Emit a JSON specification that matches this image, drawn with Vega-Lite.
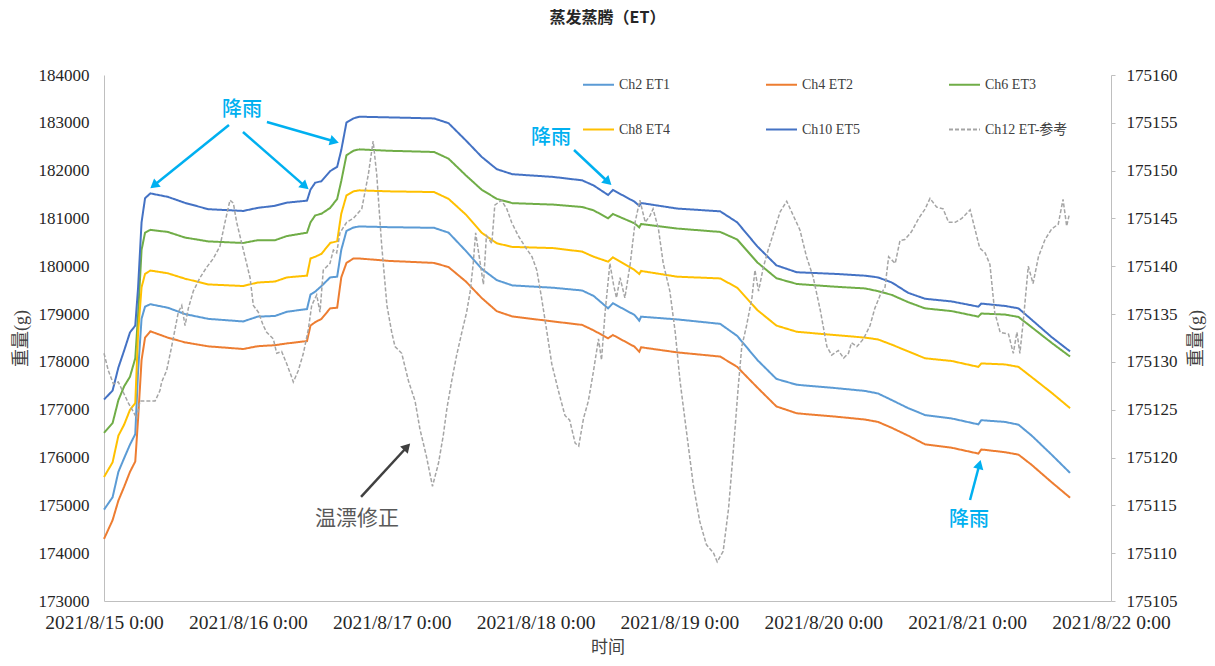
{
  "$schema": "https://vega.github.io/schema/vega-lite/v6.json",
  "width": 1007,
  "height": 526,
  "autosize": {"type": "none"},
  "padding": {"left": 104, "top": 75, "right": 104, "bottom": 65},
  "title": {"text": "蒸发蒸腾（ET）", "frame": "group", "anchor": "middle", "offset": 40, "font": "Noto Sans CJK SC", "fontSize": 16, "fontWeight": "bold", "color": "#262626"},
  "datasets": {
    "et": [
      {"t": "2021-08-15T00:00", "Ch2 ET1": 174910, "Ch4 ET2": 174298, "Ch6 ET3": 176514, "Ch8 ET4": 175593, "Ch10 ET5": 177213},
      {"t": "2021-08-15T01:26", "Ch2 ET1": 175170, "Ch4 ET2": 174690, "Ch6 ET3": 176720, "Ch8 ET4": 175900, "Ch10 ET5": 177400},
      {"t": "2021-08-15T02:24", "Ch2 ET1": 175701, "Ch4 ET2": 175100, "Ch6 ET3": 177200, "Ch8 ET4": 176457, "Ch10 ET5": 177882},
      {"t": "2021-08-15T03:22", "Ch2 ET1": 175990, "Ch4 ET2": 175390, "Ch6 ET3": 177490, "Ch8 ET4": 176690, "Ch10 ET5": 178240},
      {"t": "2021-08-15T04:20", "Ch2 ET1": 176270, "Ch4 ET2": 175701, "Ch6 ET3": 177690, "Ch8 ET4": 176997, "Ch10 ET5": 178616},
      {"t": "2021-08-15T05:13", "Ch2 ET1": 176490, "Ch4 ET2": 175917, "Ch6 ET3": 178076, "Ch8 ET4": 177140, "Ch10 ET5": 178760},
      {"t": "2021-08-15T05:41", "Ch2 ET1": 177800, "Ch4 ET2": 176800, "Ch6 ET3": 178980, "Ch8 ET4": 178600, "Ch10 ET5": 179550},
      {"t": "2021-08-15T06:16", "Ch2 ET1": 178904, "Ch4 ET2": 178040, "Ch6 ET3": 180343, "Ch8 ET4": 179560, "Ch10 ET5": 180919},
      {"t": "2021-08-15T06:51", "Ch2 ET1": 179156, "Ch4 ET2": 178508, "Ch6 ET3": 180703, "Ch8 ET4": 179840, "Ch10 ET5": 181423},
      {"t": "2021-08-15T07:44", "Ch2 ET1": 179206, "Ch4 ET2": 178640, "Ch6 ET3": 180761, "Ch8 ET4": 179911, "Ch10 ET5": 181524},
      {"t": "2021-08-15T10:38", "Ch2 ET1": 179134, "Ch4 ET2": 178508, "Ch6 ET3": 180718, "Ch8 ET4": 179854, "Ch10 ET5": 181452},
      {"t": "2021-08-15T13:32", "Ch2 ET1": 179000, "Ch4 ET2": 178408, "Ch6 ET3": 180600, "Ch8 ET4": 179740, "Ch10 ET5": 181325},
      {"t": "2021-08-15T17:25", "Ch2 ET1": 178900, "Ch4 ET2": 178325, "Ch6 ET3": 180520, "Ch8 ET4": 179620, "Ch10 ET5": 181193},
      {"t": "2021-08-15T23:13", "Ch2 ET1": 178846, "Ch4 ET2": 178270, "Ch6 ET3": 180487, "Ch8 ET4": 179587, "Ch10 ET5": 181157},
      {"t": "2021-08-16T01:38", "Ch2 ET1": 178947, "Ch4 ET2": 178328, "Ch6 ET3": 180545, "Ch8 ET4": 179660, "Ch10 ET5": 181221},
      {"t": "2021-08-16T04:32", "Ch2 ET1": 178961, "Ch4 ET2": 178350, "Ch6 ET3": 180545, "Ch8 ET4": 179681, "Ch10 ET5": 181265},
      {"t": "2021-08-16T06:29", "Ch2 ET1": 179048, "Ch4 ET2": 178386, "Ch6 ET3": 180631, "Ch8 ET4": 179767, "Ch10 ET5": 181330},
      {"t": "2021-08-16T09:52", "Ch2 ET1": 179106, "Ch4 ET2": 178436, "Ch6 ET3": 180703, "Ch8 ET4": 179803, "Ch10 ET5": 181372},
      {"t": "2021-08-16T10:27", "Ch2 ET1": 179408, "Ch4 ET2": 178760, "Ch6 ET3": 180919, "Ch8 ET4": 180163, "Ch10 ET5": 181603},
      {"t": "2021-08-16T11:14", "Ch2 ET1": 179470, "Ch4 ET2": 178830, "Ch6 ET3": 181063, "Ch8 ET4": 180199, "Ch10 ET5": 181747},
      {"t": "2021-08-16T12:17", "Ch2 ET1": 179587, "Ch4 ET2": 178900, "Ch6 ET3": 181099, "Ch8 ET4": 180260, "Ch10 ET5": 181780},
      {"t": "2021-08-16T13:44", "Ch2 ET1": 179767, "Ch4 ET2": 179120, "Ch6 ET3": 181221, "Ch8 ET4": 180487, "Ch10 ET5": 181990},
      {"t": "2021-08-16T14:54", "Ch2 ET1": 179782, "Ch4 ET2": 179134, "Ch6 ET3": 181408, "Ch8 ET4": 180523, "Ch10 ET5": 182080},
      {"t": "2021-08-16T15:35", "Ch2 ET1": 180343, "Ch4 ET2": 179767, "Ch6 ET3": 181783, "Ch8 ET4": 181100, "Ch10 ET5": 182430},
      {"t": "2021-08-16T16:27", "Ch2 ET1": 180739, "Ch4 ET2": 180070, "Ch6 ET3": 182322, "Ch8 ET4": 181480, "Ch10 ET5": 183006},
      {"t": "2021-08-16T17:37", "Ch2 ET1": 180811, "Ch4 ET2": 180163, "Ch6 ET3": 182416, "Ch8 ET4": 181567, "Ch10 ET5": 183092},
      {"t": "2021-08-16T18:35", "Ch2 ET1": 180833, "Ch4 ET2": 180163, "Ch6 ET3": 182445, "Ch8 ET4": 181588, "Ch10 ET5": 183128},
      {"t": "2021-08-16T23:25", "Ch2 ET1": 180818, "Ch4 ET2": 180113, "Ch6 ET3": 182416, "Ch8 ET4": 181567, "Ch10 ET5": 183114},
      {"t": "2021-08-17T07:04", "Ch2 ET1": 180804, "Ch4 ET2": 180070, "Ch6 ET3": 182390, "Ch8 ET4": 181552, "Ch10 ET5": 183092},
      {"t": "2021-08-17T09:29", "Ch2 ET1": 180703, "Ch4 ET2": 179983, "Ch6 ET3": 182250, "Ch8 ET4": 181410, "Ch10 ET5": 182992},
      {"t": "2021-08-17T12:23", "Ch2 ET1": 180320, "Ch4 ET2": 179680, "Ch6 ET3": 181900, "Ch8 ET4": 181080, "Ch10 ET5": 182630},
      {"t": "2021-08-17T15:01", "Ch2 ET1": 179947, "Ch4 ET2": 179336, "Ch6 ET3": 181600, "Ch8 ET4": 180700, "Ch10 ET5": 182287},
      {"t": "2021-08-17T17:32", "Ch2 ET1": 179710, "Ch4 ET2": 179060, "Ch6 ET3": 181410, "Ch8 ET4": 180480, "Ch10 ET5": 182030},
      {"t": "2021-08-17T20:08", "Ch2 ET1": 179600, "Ch4 ET2": 178950, "Ch6 ET3": 181320, "Ch8 ET4": 180405, "Ch10 ET5": 181925},
      {"t": "2021-08-18T02:55", "Ch2 ET1": 179551, "Ch4 ET2": 178846, "Ch6 ET3": 181290, "Ch8 ET4": 180380, "Ch10 ET5": 181869},
      {"t": "2021-08-18T07:46", "Ch2 ET1": 179494, "Ch4 ET2": 178774, "Ch6 ET3": 181240, "Ch8 ET4": 180307, "Ch10 ET5": 181797},
      {"t": "2021-08-18T09:41", "Ch2 ET1": 179380, "Ch4 ET2": 178660, "Ch6 ET3": 181170, "Ch8 ET4": 180200, "Ch10 ET5": 181690},
      {"t": "2021-08-18T12:06", "Ch2 ET1": 179121, "Ch4 ET2": 178494, "Ch6 ET3": 181003, "Ch8 ET4": 180096, "Ch10 ET5": 181491},
      {"t": "2021-08-18T12:54", "Ch2 ET1": 179226, "Ch4 ET2": 178563, "Ch6 ET3": 181093, "Ch8 ET4": 180188, "Ch10 ET5": 181595},
      {"t": "2021-08-18T16:30", "Ch2 ET1": 178982, "Ch4 ET2": 178319, "Ch6 ET3": 180899, "Ch8 ET4": 179923, "Ch10 ET5": 181351},
      {"t": "2021-08-18T17:18", "Ch2 ET1": 178862, "Ch4 ET2": 178213, "Ch6 ET3": 180814, "Ch8 ET4": 179838, "Ch10 ET5": 181266},
      {"t": "2021-08-18T17:36", "Ch2 ET1": 178946, "Ch4 ET2": 178306, "Ch6 ET3": 180884, "Ch8 ET4": 179902, "Ch10 ET5": 181323},
      {"t": "2021-08-18T23:38", "Ch2 ET1": 178889, "Ch4 ET2": 178199, "Ch6 ET3": 180789, "Ch8 ET4": 179782, "Ch10 ET5": 181207},
      {"t": "2021-08-19T06:48", "Ch2 ET1": 178796, "Ch4 ET2": 178112, "Ch6 ET3": 180718, "Ch8 ET4": 179746, "Ch10 ET5": 181149},
      {"t": "2021-08-19T09:38", "Ch2 ET1": 178544, "Ch4 ET2": 177896, "Ch6 ET3": 180560, "Ch8 ET4": 179552, "Ch10 ET5": 180919},
      {"t": "2021-08-19T13:00", "Ch2 ET1": 178040, "Ch4 ET2": 177464, "Ch6 ET3": 180080, "Ch8 ET4": 179084, "Ch10 ET5": 180415},
      {"t": "2021-08-19T16:11", "Ch2 ET1": 177644, "Ch4 ET2": 177069, "Ch6 ET3": 179750, "Ch8 ET4": 178760, "Ch10 ET5": 180019},
      {"t": "2021-08-19T19:35", "Ch2 ET1": 177522, "Ch4 ET2": 176925, "Ch6 ET3": 179630, "Ch8 ET4": 178630, "Ch10 ET5": 179875},
      {"t": "2021-08-20T02:16", "Ch2 ET1": 177450, "Ch4 ET2": 176853, "Ch6 ET3": 179570, "Ch8 ET4": 178558, "Ch10 ET5": 179839},
      {"t": "2021-08-20T06:58", "Ch2 ET1": 177393, "Ch4 ET2": 176795, "Ch6 ET3": 179537, "Ch8 ET4": 178508, "Ch10 ET5": 179803},
      {"t": "2021-08-20T09:08", "Ch2 ET1": 177340, "Ch4 ET2": 176745, "Ch6 ET3": 179480, "Ch8 ET4": 178470, "Ch10 ET5": 179767},
      {"t": "2021-08-20T11:27", "Ch2 ET1": 177200, "Ch4 ET2": 176620, "Ch6 ET3": 179400, "Ch8 ET4": 178360, "Ch10 ET5": 179660},
      {"t": "2021-08-20T14:10", "Ch2 ET1": 177033, "Ch4 ET2": 176457, "Ch6 ET3": 179249, "Ch8 ET4": 178220, "Ch10 ET5": 179444},
      {"t": "2021-08-20T16:58", "Ch2 ET1": 176889, "Ch4 ET2": 176277, "Ch6 ET3": 179120, "Ch8 ET4": 178076, "Ch10 ET5": 179321},
      {"t": "2021-08-20T21:26", "Ch2 ET1": 176817, "Ch4 ET2": 176205, "Ch6 ET3": 179062, "Ch8 ET4": 178019, "Ch10 ET5": 179264},
      {"t": "2021-08-21T01:52", "Ch2 ET1": 176694, "Ch4 ET2": 176083, "Ch6 ET3": 178947, "Ch8 ET4": 177896, "Ch10 ET5": 179156},
      {"t": "2021-08-21T02:22", "Ch2 ET1": 176781, "Ch4 ET2": 176169, "Ch6 ET3": 179012, "Ch8 ET4": 177968, "Ch10 ET5": 179220},
      {"t": "2021-08-21T06:20", "Ch2 ET1": 176745, "Ch4 ET2": 176112, "Ch6 ET3": 178990, "Ch8 ET4": 177947, "Ch10 ET5": 179170},
      {"t": "2021-08-21T08:34", "Ch2 ET1": 176687, "Ch4 ET2": 176061, "Ch6 ET3": 178940, "Ch8 ET4": 177896, "Ch10 ET5": 179120},
      {"t": "2021-08-21T10:47", "Ch2 ET1": 176457, "Ch4 ET2": 175845, "Ch6 ET3": 178724, "Ch8 ET4": 177680, "Ch10 ET5": 178880},
      {"t": "2021-08-21T14:05", "Ch2 ET1": 176061, "Ch4 ET2": 175485, "Ch6 ET3": 178400, "Ch8 ET4": 177356, "Ch10 ET5": 178520},
      {"t": "2021-08-21T17:10", "Ch2 ET1": 175679, "Ch4 ET2": 175161, "Ch6 ET3": 178112, "Ch8 ET4": 177033, "Ch10 ET5": 178220}
    ],
    "ref": [
      {"t": "2021-08-15T00:00", "Ch12 ET-参考": 175130.9},
      {"t": "2021-08-15T00:43", "Ch12 ET-参考": 175129.1},
      {"t": "2021-08-15T01:34", "Ch12 ET-参考": 175127.7},
      {"t": "2021-08-15T02:23", "Ch12 ET-参考": 175127.9},
      {"t": "2021-08-15T03:14", "Ch12 ET-参考": 175126.8},
      {"t": "2021-08-15T04:04", "Ch12 ET-参考": 175125.7},
      {"t": "2021-08-15T04:53", "Ch12 ET-参考": 175124.8},
      {"t": "2021-08-15T05:27", "Ch12 ET-参考": 175124.1},
      {"t": "2021-08-15T06:00", "Ch12 ET-参考": 175125.9},
      {"t": "2021-08-15T06:50", "Ch12 ET-参考": 175125.9},
      {"t": "2021-08-15T08:31", "Ch12 ET-参考": 175125.9},
      {"t": "2021-08-15T09:20", "Ch12 ET-参考": 175127.0},
      {"t": "2021-08-15T09:37", "Ch12 ET-参考": 175127.9},
      {"t": "2021-08-15T10:27", "Ch12 ET-参考": 175129.1},
      {"t": "2021-08-15T11:17", "Ch12 ET-参考": 175131.6},
      {"t": "2021-08-15T12:24", "Ch12 ET-参考": 175135.2},
      {"t": "2021-08-15T12:58", "Ch12 ET-参考": 175135.9},
      {"t": "2021-08-15T13:31", "Ch12 ET-参考": 175133.8},
      {"t": "2021-08-15T14:04", "Ch12 ET-参考": 175135.6},
      {"t": "2021-08-15T14:54", "Ch12 ET-参考": 175137.4},
      {"t": "2021-08-15T16:01", "Ch12 ET-参考": 175138.8},
      {"t": "2021-08-15T17:08", "Ch12 ET-参考": 175139.9},
      {"t": "2021-08-15T18:14", "Ch12 ET-参考": 175140.8},
      {"t": "2021-08-15T19:21", "Ch12 ET-参考": 175142.1},
      {"t": "2021-08-15T20:11", "Ch12 ET-参考": 175144.6},
      {"t": "2021-08-15T21:01", "Ch12 ET-参考": 175146.9},
      {"t": "2021-08-15T21:35", "Ch12 ET-参考": 175146.6},
      {"t": "2021-08-15T22:08", "Ch12 ET-参考": 175144.6},
      {"t": "2021-08-15T23:15", "Ch12 ET-参考": 175141.7},
      {"t": "2021-08-16T00:22", "Ch12 ET-参考": 175138.8},
      {"t": "2021-08-16T00:55", "Ch12 ET-参考": 175135.9},
      {"t": "2021-08-16T01:45", "Ch12 ET-参考": 175135.2},
      {"t": "2021-08-16T02:35", "Ch12 ET-参考": 175133.8},
      {"t": "2021-08-16T03:08", "Ch12 ET-参考": 175133.1},
      {"t": "2021-08-16T04:15", "Ch12 ET-参考": 175132.4},
      {"t": "2021-08-16T04:49", "Ch12 ET-参考": 175130.9},
      {"t": "2021-08-16T05:38", "Ch12 ET-参考": 175131.1},
      {"t": "2021-08-16T06:29", "Ch12 ET-参考": 175129.8},
      {"t": "2021-08-16T07:19", "Ch12 ET-参考": 175128.4},
      {"t": "2021-08-16T07:35", "Ch12 ET-参考": 175127.9},
      {"t": "2021-08-16T08:25", "Ch12 ET-参考": 175129.1},
      {"t": "2021-08-16T09:16", "Ch12 ET-参考": 175130.9},
      {"t": "2021-08-16T10:05", "Ch12 ET-参考": 175133.4},
      {"t": "2021-08-16T10:39", "Ch12 ET-参考": 175135.9},
      {"t": "2021-08-16T11:29", "Ch12 ET-参考": 175137.0},
      {"t": "2021-08-16T12:02", "Ch12 ET-参考": 175135.2},
      {"t": "2021-08-16T12:35", "Ch12 ET-参考": 175139.6},
      {"t": "2021-08-16T13:42", "Ch12 ET-参考": 175140.3},
      {"t": "2021-08-16T14:16", "Ch12 ET-参考": 175141.7},
      {"t": "2021-08-16T14:49", "Ch12 ET-参考": 175141.4},
      {"t": "2021-08-16T15:22", "Ch12 ET-参考": 175143.5},
      {"t": "2021-08-16T16:29", "Ch12 ET-参考": 175144.6},
      {"t": "2021-08-16T17:36", "Ch12 ET-参考": 175145.0},
      {"t": "2021-08-16T19:00", "Ch12 ET-参考": 175146.0},
      {"t": "2021-08-16T20:06", "Ch12 ET-参考": 175149.6},
      {"t": "2021-08-16T20:54", "Ch12 ET-参考": 175153.1},
      {"t": "2021-08-16T21:30", "Ch12 ET-参考": 175149.6},
      {"t": "2021-08-16T22:18", "Ch12 ET-参考": 175142.4},
      {"t": "2021-08-16T23:12", "Ch12 ET-参考": 175135.9},
      {"t": "2021-08-17T00:00", "Ch12 ET-参考": 175133.1},
      {"t": "2021-08-17T00:33", "Ch12 ET-参考": 175131.6},
      {"t": "2021-08-17T01:40", "Ch12 ET-参考": 175130.9},
      {"t": "2021-08-17T02:48", "Ch12 ET-参考": 175128.0},
      {"t": "2021-08-17T03:54", "Ch12 ET-参考": 175125.9},
      {"t": "2021-08-17T04:42", "Ch12 ET-参考": 175123.0},
      {"t": "2021-08-17T05:48", "Ch12 ET-参考": 175120.1},
      {"t": "2021-08-17T06:48", "Ch12 ET-参考": 175117.0},
      {"t": "2021-08-17T07:48", "Ch12 ET-参考": 175119.4},
      {"t": "2021-08-17T08:36", "Ch12 ET-参考": 175122.3},
      {"t": "2021-08-17T09:12", "Ch12 ET-参考": 175125.1},
      {"t": "2021-08-17T10:00", "Ch12 ET-参考": 175128.0},
      {"t": "2021-08-17T10:48", "Ch12 ET-参考": 175130.6},
      {"t": "2021-08-17T11:42", "Ch12 ET-参考": 175133.1},
      {"t": "2021-08-17T12:30", "Ch12 ET-参考": 175135.2},
      {"t": "2021-08-17T13:06", "Ch12 ET-参考": 175137.4},
      {"t": "2021-08-17T13:36", "Ch12 ET-参考": 175140.3},
      {"t": "2021-08-17T14:00", "Ch12 ET-参考": 175143.5},
      {"t": "2021-08-17T14:36", "Ch12 ET-参考": 175141.0},
      {"t": "2021-08-17T15:18", "Ch12 ET-参考": 175138.1},
      {"t": "2021-08-17T15:48", "Ch12 ET-参考": 175143.2},
      {"t": "2021-08-17T16:42", "Ch12 ET-参考": 175142.4},
      {"t": "2021-08-17T17:12", "Ch12 ET-参考": 175146.4},
      {"t": "2021-08-17T18:18", "Ch12 ET-参考": 175146.9},
      {"t": "2021-08-17T19:12", "Ch12 ET-参考": 175146.0},
      {"t": "2021-08-17T20:00", "Ch12 ET-参考": 175144.6},
      {"t": "2021-08-17T21:06", "Ch12 ET-参考": 175143.2},
      {"t": "2021-08-17T22:12", "Ch12 ET-参考": 175142.1},
      {"t": "2021-08-17T23:24", "Ch12 ET-参考": 175141.0},
      {"t": "2021-08-18T00:12", "Ch12 ET-参考": 175139.6},
      {"t": "2021-08-18T01:00", "Ch12 ET-参考": 175136.7},
      {"t": "2021-08-18T01:54", "Ch12 ET-参考": 175133.1},
      {"t": "2021-08-18T02:42", "Ch12 ET-参考": 175129.8},
      {"t": "2021-08-18T03:48", "Ch12 ET-参考": 175127.0},
      {"t": "2021-08-18T04:54", "Ch12 ET-参考": 175124.4},
      {"t": "2021-08-18T05:42", "Ch12 ET-参考": 175123.9},
      {"t": "2021-08-18T06:36", "Ch12 ET-参考": 175121.5},
      {"t": "2021-08-18T07:12", "Ch12 ET-参考": 175121.2},
      {"t": "2021-08-18T08:00", "Ch12 ET-参考": 175124.1},
      {"t": "2021-08-18T08:48", "Ch12 ET-参考": 175125.9},
      {"t": "2021-08-18T09:36", "Ch12 ET-参考": 175128.8},
      {"t": "2021-08-18T10:30", "Ch12 ET-参考": 175132.4},
      {"t": "2021-08-18T11:00", "Ch12 ET-参考": 175130.2},
      {"t": "2021-08-18T11:36", "Ch12 ET-参考": 175135.2},
      {"t": "2021-08-18T12:24", "Ch12 ET-参考": 175140.3},
      {"t": "2021-08-18T13:00", "Ch12 ET-参考": 175138.1},
      {"t": "2021-08-18T13:30", "Ch12 ET-参考": 175136.7},
      {"t": "2021-08-18T14:06", "Ch12 ET-参考": 175138.8},
      {"t": "2021-08-18T14:54", "Ch12 ET-参考": 175136.7},
      {"t": "2021-08-18T15:48", "Ch12 ET-参考": 175140.3},
      {"t": "2021-08-18T16:36", "Ch12 ET-参考": 175144.6},
      {"t": "2021-08-18T17:24", "Ch12 ET-参考": 175146.9},
      {"t": "2021-08-18T18:18", "Ch12 ET-参考": 175144.6},
      {"t": "2021-08-18T19:06", "Ch12 ET-参考": 175145.3},
      {"t": "2021-08-18T19:36", "Ch12 ET-参考": 175146.0},
      {"t": "2021-08-18T20:30", "Ch12 ET-参考": 175143.9},
      {"t": "2021-08-18T21:18", "Ch12 ET-参考": 175140.3},
      {"t": "2021-08-18T22:24", "Ch12 ET-参考": 175137.4},
      {"t": "2021-08-18T23:18", "Ch12 ET-参考": 175133.1},
      {"t": "2021-08-19T00:06", "Ch12 ET-参考": 175128.0},
      {"t": "2021-08-19T01:12", "Ch12 ET-参考": 175122.6},
      {"t": "2021-08-19T02:18", "Ch12 ET-参考": 175117.2},
      {"t": "2021-08-19T03:24", "Ch12 ET-参考": 175113.3},
      {"t": "2021-08-19T04:30", "Ch12 ET-参考": 175110.9},
      {"t": "2021-08-19T05:42", "Ch12 ET-参考": 175110.0},
      {"t": "2021-08-19T06:18", "Ch12 ET-参考": 175109.1},
      {"t": "2021-08-19T07:18", "Ch12 ET-参考": 175110.2},
      {"t": "2021-08-19T08:12", "Ch12 ET-参考": 175114.7},
      {"t": "2021-08-19T09:00", "Ch12 ET-参考": 175120.8},
      {"t": "2021-08-19T09:48", "Ch12 ET-参考": 175127.3},
      {"t": "2021-08-19T10:24", "Ch12 ET-参考": 175131.6},
      {"t": "2021-08-19T11:12", "Ch12 ET-参考": 175133.8},
      {"t": "2021-08-19T12:06", "Ch12 ET-参考": 175136.7},
      {"t": "2021-08-19T12:36", "Ch12 ET-参考": 175139.6},
      {"t": "2021-08-19T13:12", "Ch12 ET-参考": 175137.4},
      {"t": "2021-08-19T14:00", "Ch12 ET-参考": 175139.9},
      {"t": "2021-08-19T14:48", "Ch12 ET-参考": 175141.7},
      {"t": "2021-08-19T15:42", "Ch12 ET-参考": 175143.5},
      {"t": "2021-08-19T16:48", "Ch12 ET-参考": 175145.7},
      {"t": "2021-08-19T17:54", "Ch12 ET-参考": 175146.8},
      {"t": "2021-08-19T19:00", "Ch12 ET-参考": 175145.3},
      {"t": "2021-08-19T20:06", "Ch12 ET-参考": 175143.8},
      {"t": "2021-08-19T21:12", "Ch12 ET-参考": 175141.0},
      {"t": "2021-08-19T22:18", "Ch12 ET-参考": 175138.9},
      {"t": "2021-08-19T23:30", "Ch12 ET-参考": 175135.4},
      {"t": "2021-08-20T00:36", "Ch12 ET-参考": 175131.6},
      {"t": "2021-08-20T01:24", "Ch12 ET-参考": 175130.7},
      {"t": "2021-08-20T02:30", "Ch12 ET-参考": 175131.2},
      {"t": "2021-08-20T03:24", "Ch12 ET-参考": 175130.4},
      {"t": "2021-08-20T04:12", "Ch12 ET-参考": 175130.9},
      {"t": "2021-08-20T04:42", "Ch12 ET-参考": 175132.0},
      {"t": "2021-08-20T05:36", "Ch12 ET-参考": 175131.6},
      {"t": "2021-08-20T06:42", "Ch12 ET-参考": 175132.4},
      {"t": "2021-08-20T07:48", "Ch12 ET-参考": 175133.8},
      {"t": "2021-08-20T08:36", "Ch12 ET-参考": 175135.6},
      {"t": "2021-08-20T09:30", "Ch12 ET-参考": 175137.0},
      {"t": "2021-08-20T10:18", "Ch12 ET-参考": 175137.8},
      {"t": "2021-08-20T10:54", "Ch12 ET-参考": 175141.0},
      {"t": "2021-08-20T12:00", "Ch12 ET-参考": 175140.3},
      {"t": "2021-08-20T12:48", "Ch12 ET-参考": 175142.7},
      {"t": "2021-08-20T13:36", "Ch12 ET-参考": 175142.8},
      {"t": "2021-08-20T14:42", "Ch12 ET-参考": 175143.6},
      {"t": "2021-08-20T15:54", "Ch12 ET-参考": 175145.0},
      {"t": "2021-08-20T17:00", "Ch12 ET-参考": 175146.0},
      {"t": "2021-08-20T17:48", "Ch12 ET-参考": 175147.1},
      {"t": "2021-08-20T18:54", "Ch12 ET-参考": 175146.2},
      {"t": "2021-08-20T20:00", "Ch12 ET-参考": 175146.0},
      {"t": "2021-08-20T20:54", "Ch12 ET-参考": 175144.6},
      {"t": "2021-08-20T22:00", "Ch12 ET-参考": 175144.6},
      {"t": "2021-08-20T23:06", "Ch12 ET-参考": 175145.0},
      {"t": "2021-08-21T00:30", "Ch12 ET-参考": 175145.9},
      {"t": "2021-08-21T01:18", "Ch12 ET-参考": 175143.9},
      {"t": "2021-08-21T02:06", "Ch12 ET-参考": 175141.9},
      {"t": "2021-08-21T03:00", "Ch12 ET-参考": 175141.4},
      {"t": "2021-08-21T03:48", "Ch12 ET-参考": 175140.2},
      {"t": "2021-08-21T04:36", "Ch12 ET-参考": 175135.2},
      {"t": "2021-08-21T05:30", "Ch12 ET-参考": 175133.1},
      {"t": "2021-08-21T06:54", "Ch12 ET-参考": 175132.9},
      {"t": "2021-08-21T07:42", "Ch12 ET-参考": 175130.9},
      {"t": "2021-08-21T08:18", "Ch12 ET-参考": 175133.1},
      {"t": "2021-08-21T08:48", "Ch12 ET-参考": 175130.9},
      {"t": "2021-08-21T09:24", "Ch12 ET-参考": 175134.5},
      {"t": "2021-08-21T10:12", "Ch12 ET-参考": 175140.0},
      {"t": "2021-08-21T11:00", "Ch12 ET-参考": 175138.2},
      {"t": "2021-08-21T11:54", "Ch12 ET-参考": 175141.0},
      {"t": "2021-08-21T13:00", "Ch12 ET-参考": 175142.8},
      {"t": "2021-08-21T14:06", "Ch12 ET-参考": 175143.9},
      {"t": "2021-08-21T15:12", "Ch12 ET-参考": 175144.4},
      {"t": "2021-08-21T16:00", "Ch12 ET-参考": 175147.0},
      {"t": "2021-08-21T16:36", "Ch12 ET-参考": 175144.2},
      {"t": "2021-08-21T17:00", "Ch12 ET-参考": 175145.3}
    ],
    "arrows": [
      {"id": "a1", "t1": "2021-08-15T20:51", "v1": 182955, "t2": "2021-08-15T08:31", "v2": 181710},
      {"id": "a2", "t1": "2021-08-15T23:11", "v1": 182808, "t2": "2021-08-16T09:22", "v2": 181692},
      {"id": "a3", "t1": "2021-08-16T03:11", "v1": 183017, "t2": "2021-08-16T14:12", "v2": 182620},
      {"id": "a4", "t1": "2021-08-18T06:25", "v1": 182432, "t2": "2021-08-18T11:55", "v2": 181784},
      {"id": "a5", "t1": "2021-08-21T00:29", "v1": 175113, "t2": "2021-08-21T01:59", "v2": 175824},
      {"id": "g1", "t1": "2021-08-16T18:53", "v1": 175176, "t2": "2021-08-17T02:23", "v2": 176200}
    ],
    "notes": [
      {"t": "2021-08-15T23:01", "v": 183268, "txt": "降雨", "k": "rain"},
      {"t": "2021-08-18T02:34", "v": 182683, "txt": "降雨", "k": "rain"},
      {"t": "2021-08-21T00:18", "v": 174695, "txt": "降雨", "k": "rain"},
      {"t": "2021-08-16T18:13", "v": 174716, "txt": "温漂修正", "k": "drift"}
    ]
  },
  "layer": [
    {
      "layer": [
        {
          "data": {"name": "et"},
          "transform": [{"fold": ["Ch2 ET1", "Ch4 ET2", "Ch6 ET3", "Ch8 ET4", "Ch10 ET5"], "as": ["series", "weight"]}],
          "mark": {"type": "line", "strokeWidth": 2},
          "encoding": {
            "x": {"field": "t", "type": "temporal", "title": "时间",
              "scale": {"domain": [{"year": 2021, "month": 8, "date": 15}, {"year": 2021, "month": 8, "date": 22}], "nice": false},
              "axis": {"format": "%Y/%-m/%-d %-H:%M", "tickCount": {"interval": "day", "step": 1}, "ticks": false, "tickSize": 0, "labelPadding": 12, "labelFontSize": 19.5, "labelFlush": false, "labelOverlap": false, "titleFontSize": 17, "titlePadding": 8}},
            "y": {"field": "weight", "type": "quantitative", "title": "重量(g)",
              "scale": {"domain": [173000, 184000], "nice": false, "zero": false},
              "axis": {"orient": "left", "values": [173000, 174000, 175000, 176000, 177000, 178000, 179000, 180000, 181000, 182000, 183000, 184000], "format": "d", "ticks": false, "tickSize": 0, "labelPadding": 15, "titlePadding": 8}},
            "color": {"field": "series", "type": "nominal",
              "scale": {"domain": ["Ch2 ET1", "Ch4 ET2", "Ch6 ET3", "Ch8 ET4", "Ch10 ET5", "Ch12 ET-参考"], "range": ["#5B9BD5", "#ED7D31", "#70AD47", "#FFC000", "#4472C4", "#A5A5A5"]},
              "legend": {"title": null, "orient": "none", "direction": "horizontal", "legendX": 478, "legendY": -7, "columns": 3, "gridAlign": "all", "columnPadding": 60, "rowPadding": 21, "symbolType": "stroke", "symbolSize": 961, "symbolStrokeWidth": 2, "labelOffset": 4, "padding": 0, "labelLimit": 200}},
            "strokeDash": {"field": "series", "type": "nominal",
              "scale": {"domain": ["Ch2 ET1", "Ch4 ET2", "Ch6 ET3", "Ch8 ET4", "Ch10 ET5", "Ch12 ET-参考"], "range": [[1, 0], [1, 0], [1, 0], [1, 0], [1, 0], [4, 2]]},
              "legend": {"title": null, "orient": "none", "direction": "horizontal", "legendX": 478, "legendY": -7, "columns": 3, "gridAlign": "all", "columnPadding": 60, "rowPadding": 21, "symbolType": "stroke", "symbolSize": 961, "symbolStrokeWidth": 2, "labelOffset": 4, "padding": 0, "labelLimit": 200}}
          }
        },
        {
          "data": {"name": "arrows"},
          "transform": [{"filter": "datum.id != 'g1'"}],
          "mark": {"type": "rule", "color": "#00B0F0", "strokeWidth": 2.5},
          "encoding": {
            "x": {"field": "t1", "type": "temporal", "title": "时间"},
            "y": {"field": "v1", "type": "quantitative", "title": "重量(g)"},
            "x2": {"field": "t2"},
            "y2": {"field": "v2"}
          }
        },
        {
          "data": {"name": "arrows"},
          "transform": [{"filter": "datum.id == 'g1'"}],
          "mark": {"type": "rule", "color": "#404040", "strokeWidth": 2.5},
          "encoding": {
            "x": {"field": "t1", "type": "temporal", "title": "时间"},
            "y": {"field": "v1", "type": "quantitative", "title": "重量(g)"},
            "x2": {"field": "t2"},
            "y2": {"field": "v2"}
          }
        },
        {
          "data": {"name": "arrows"},
          "transform": [{"filter": "datum.id == 'a1'"}],
          "mark": {"type": "point", "shape": "triangle", "filled": true, "opacity": 1, "size": 110, "angle": 231, "color": "#00B0F0"},
          "encoding": {"x": {"field": "t2", "type": "temporal", "title": "时间"}, "y": {"field": "v2", "type": "quantitative", "title": "重量(g)"}}
        },
        {
          "data": {"name": "arrows"},
          "transform": [{"filter": "datum.id == 'a2'"}],
          "mark": {"type": "point", "shape": "triangle", "filled": true, "opacity": 1, "size": 110, "angle": 131, "color": "#00B0F0"},
          "encoding": {"x": {"field": "t2", "type": "temporal", "title": "时间"}, "y": {"field": "v2", "type": "quantitative", "title": "重量(g)"}}
        },
        {
          "data": {"name": "arrows"},
          "transform": [{"filter": "datum.id == 'a3'"}],
          "mark": {"type": "point", "shape": "triangle", "filled": true, "opacity": 1, "size": 110, "angle": 106, "color": "#00B0F0"},
          "encoding": {"x": {"field": "t2", "type": "temporal", "title": "时间"}, "y": {"field": "v2", "type": "quantitative", "title": "重量(g)"}}
        },
        {
          "data": {"name": "arrows"},
          "transform": [{"filter": "datum.id == 'a4'"}],
          "mark": {"type": "point", "shape": "triangle", "filled": true, "opacity": 1, "size": 110, "angle": 133, "color": "#00B0F0"},
          "encoding": {"x": {"field": "t2", "type": "temporal", "title": "时间"}, "y": {"field": "v2", "type": "quantitative", "title": "重量(g)"}}
        },
        {
          "data": {"name": "arrows"},
          "transform": [{"filter": "datum.id == 'a5'"}],
          "mark": {"type": "point", "shape": "triangle", "filled": true, "opacity": 1, "size": 110, "angle": 15, "color": "#00B0F0"},
          "encoding": {"x": {"field": "t2", "type": "temporal", "title": "时间"}, "y": {"field": "v2", "type": "quantitative", "title": "重量(g)"}}
        },
        {
          "data": {"name": "arrows"},
          "transform": [{"filter": "datum.id == 'g1'"}],
          "mark": {"type": "point", "shape": "triangle", "filled": true, "opacity": 1, "size": 110, "angle": 43, "color": "#404040"},
          "encoding": {"x": {"field": "t2", "type": "temporal", "title": "时间"}, "y": {"field": "v2", "type": "quantitative", "title": "重量(g)"}}
        },
        {
          "data": {"name": "notes"},
          "transform": [{"filter": "datum.k == 'rain'"}],
          "mark": {"type": "text", "font": "Noto Sans CJK SC", "fontSize": 20, "fontWeight": 500, "color": "#00B0F0", "align": "center", "baseline": "middle"},
          "encoding": {"x": {"field": "t", "type": "temporal", "title": "时间"}, "y": {"field": "v", "type": "quantitative", "title": "重量(g)"}, "text": {"field": "txt"}}
        },
        {
          "data": {"name": "notes"},
          "transform": [{"filter": "datum.k == 'drift'"}],
          "mark": {"type": "text", "font": "Noto Sans CJK SC", "fontSize": 21, "color": "#595959", "align": "center", "baseline": "middle"},
          "encoding": {"x": {"field": "t", "type": "temporal", "title": "时间"}, "y": {"field": "v", "type": "quantitative", "title": "重量(g)"}, "text": {"field": "txt"}}
        }
      ]
    },
    {
      "data": {"name": "ref"},
      "transform": [{"fold": ["Ch12 ET-参考"], "as": ["series", "weight"]}],
      "mark": {"type": "line", "strokeWidth": 1.5},
      "encoding": {
        "x": {"field": "t", "type": "temporal", "title": "时间"},
        "y": {"field": "weight", "type": "quantitative", "title": "重量(g)",
          "scale": {"domain": [175105, 175160], "nice": false, "zero": false},
          "axis": {"orient": "right", "values": [175105, 175110, 175115, 175120, 175125, 175130, 175135, 175140, 175145, 175150, 175155, 175160], "format": "d", "ticks": true, "tickSize": 4, "tickColor": "#BFBFBF", "labelPadding": 11, "titleAngle": 270, "titlePadding": 28}},
        "color": {"field": "series", "type": "nominal",
          "scale": {"domain": ["Ch2 ET1", "Ch4 ET2", "Ch6 ET3", "Ch8 ET4", "Ch10 ET5", "Ch12 ET-参考"], "range": ["#5B9BD5", "#ED7D31", "#70AD47", "#FFC000", "#4472C4", "#A5A5A5"]},
          "legend": {"title": null, "orient": "none", "direction": "horizontal", "legendX": 478, "legendY": -7, "columns": 3, "gridAlign": "all", "columnPadding": 60, "rowPadding": 21, "symbolType": "stroke", "symbolSize": 961, "symbolStrokeWidth": 2, "labelOffset": 4, "padding": 0, "labelLimit": 200}},
        "strokeDash": {"field": "series", "type": "nominal",
          "scale": {"domain": ["Ch2 ET1", "Ch4 ET2", "Ch6 ET3", "Ch8 ET4", "Ch10 ET5", "Ch12 ET-参考"], "range": [[1, 0], [1, 0], [1, 0], [1, 0], [1, 0], [4, 2]]},
          "legend": {"title": null, "orient": "none", "direction": "horizontal", "legendX": 478, "legendY": -7, "columns": 3, "gridAlign": "all", "columnPadding": 60, "rowPadding": 21, "symbolType": "stroke", "symbolSize": 961, "symbolStrokeWidth": 2, "labelOffset": 4, "padding": 0, "labelLimit": 200}}
      }
    }
  ],
  "resolve": {"scale": {"y": "independent"}},
  "config": {
    "view": {"stroke": null},
    "axis": {"grid": false, "domainColor": "#BFBFBF", "domainWidth": 1, "labelFont": "Liberation Serif", "labelFontSize": 17, "labelColor": "#262626", "titleFont": "Liberation Serif, Noto Sans CJK SC", "titleFontSize": 18, "titleFontWeight": "normal", "titleColor": "#404040"},
    "legend": {"labelFont": "Liberation Serif, Noto Sans CJK SC", "labelFontSize": 14, "labelColor": "#404040"}
  }
}
